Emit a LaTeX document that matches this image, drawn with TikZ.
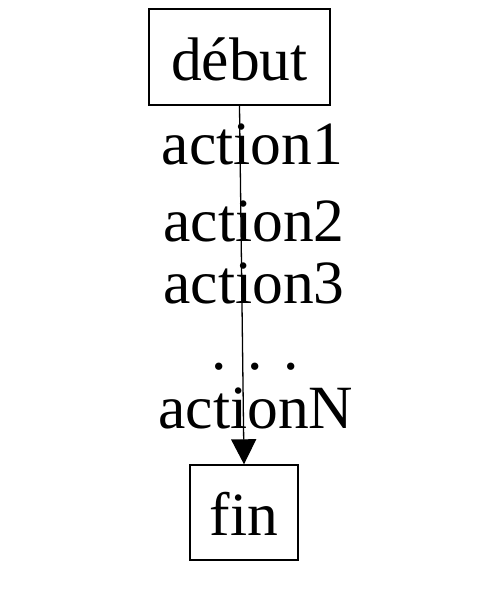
\documentclass[tikz,border=0pt]{standalone}
\usepackage{fontspec}
\setmainfont{Liberation Serif}
\usetikzlibrary{arrows.meta}
\begin{document}
\begin{tikzpicture}[x=1pt,y=-1pt,
  box/.style={draw,line width=1.4pt,inner sep=0pt,text height=46pt,text depth=0pt,font=\fontsize{61.5}{62}\selectfont},
  lbl/.style={inner sep=0pt,anchor=base,font=\fontsize{61.5}{62}\selectfont}]
\useasboundingbox (0,0) rectangle (478,603);
\node[box,minimum width=181pt,minimum height=96pt] (debut) at (239.5,57) {début};
\node[box,minimum width=108pt,minimum height=95pt] (fin) at (244,512.5) {fin};
\draw[line width=1.3pt,-{Triangle[length=25pt,width=25pt]}] (debut.south) -- (fin.north);
\node[lbl] (a1) at (252.5,164) {action1};
\node[lbl] (a2) at (254,241) {action2};
\node[lbl] (a3) at (254,303) {action3};
\node[lbl] (dots) at (255,369) {.\,\,.\,\,.};
\node[lbl] (aN) at (256,428) {actionN};
\end{tikzpicture}
\end{document}
